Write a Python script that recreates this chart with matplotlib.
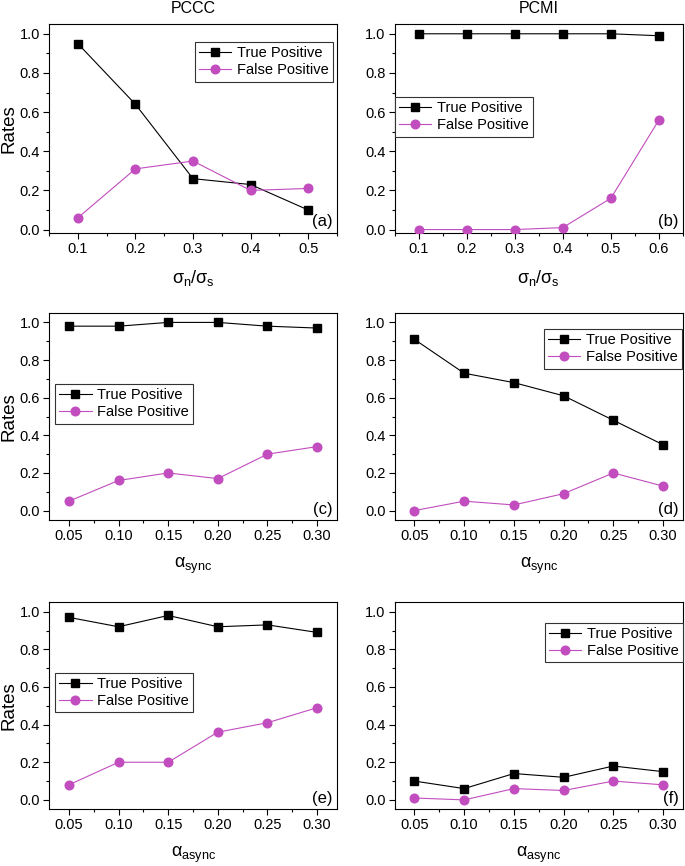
import matplotlib
matplotlib.use("Agg")
import matplotlib.pyplot as plt
from matplotlib.ticker import AutoMinorLocator

plt.rcParams['font.family'] = ['Liberation Sans', 'DejaVu Sans']
plt.rcParams['mathtext.fontset'] = 'custom'
plt.rcParams['mathtext.rm'] = 'Liberation Sans'
plt.rcParams['mathtext.it'] = 'Liberation Sans'
plt.rcParams['mathtext.sf'] = 'Liberation Sans'

# ---- data ----
x_noise_a = [0.1, 0.2, 0.3, 0.4, 0.5]
x_noise_b = [0.1, 0.2, 0.3, 0.4, 0.5, 0.6]
x_alpha = [0.05, 0.10, 0.15, 0.20, 0.25, 0.30]

tp_a = [0.95, 0.64, 0.26, 0.23, 0.10]
fp_a = [0.06, 0.31, 0.35, 0.20, 0.21]
tp_b = [1.00, 1.00, 1.00, 1.00, 1.00, 0.99]
fp_b = [0.00, 0.00, 0.00, 0.01, 0.16, 0.56]
tp_c = [0.98, 0.98, 1.00, 1.00, 0.98, 0.97]
fp_c = [0.05, 0.16, 0.20, 0.17, 0.30, 0.34]
tp_d = [0.91, 0.73, 0.68, 0.61, 0.48, 0.35]
fp_d = [0.00, 0.05, 0.03, 0.09, 0.20, 0.13]
tp_e = [0.97, 0.92, 0.98, 0.92, 0.93, 0.89]
fp_e = [0.08, 0.20, 0.20, 0.36, 0.41, 0.49]
tp_f = [0.10, 0.06, 0.14, 0.12, 0.18, 0.15]
fp_f = [0.01, 0.00, 0.06, 0.05, 0.10, 0.08]

titles = ['PCCC', 'PCMI']
panel_labels = ['(a)', '(b)', '(c)', '(d)', '(e)', '(f)']
xlab_noise = r'$\sigma_\mathrm{n}/\sigma_\mathrm{s}$'
xlab_sync = r'$\alpha_\mathrm{sync}$'
xlab_async = r'$\alpha_\mathrm{async}$'
series_names = ['True Positive', 'False Positive']
yticks = [0.0, 0.2, 0.4, 0.6, 0.8, 1.0]

MAGENTA = '#C14DBE'

fig = plt.figure(figsize=(6.85, 8.66), dpi=100)
W, H = 685, 866

def add_ax(left, top, right, bottom):
    return fig.add_axes([left / W, 1 - bottom / H, (right - left) / W, (bottom - top) / H])

cols = [(49, 337), (394.5, 683)]
rows = [(24, 232.5), (313, 520), (602.3, 809.3)]

panels = [
    dict(x=x_noise_a, tp=tp_a, fp=fp_a, xlim=(0.05, 0.55), ylim=(-0.015, 1.05),
         xlabel=xlab_noise, fmt='{:.1f}', loc='upper right', leg=(0.986, 0.914)),
    dict(x=x_noise_b, tp=tp_b, fp=fp_b, xlim=(0.05, 0.65), ylim=(-0.015, 1.05),
         xlabel=xlab_noise, fmt='{:.1f}', loc='upper left', leg=(0.0, 0.65)),
    dict(x=x_alpha, tp=tp_c, fp=fp_c, xlim=(0.03, 0.32), ylim=(-0.05, 1.05),
         xlabel=xlab_sync, fmt='{:.2f}', loc='upper left', leg=(0.021, 0.657)),
    dict(x=x_alpha, tp=tp_d, fp=fp_d, xlim=(0.03, 0.32), ylim=(-0.05, 1.05),
         xlabel=xlab_sync, fmt='{:.2f}', loc='upper right', leg=(0.997, 0.923)),
    dict(x=x_alpha, tp=tp_e, fp=fp_e, xlim=(0.03, 0.32), ylim=(-0.05, 1.05),
         xlabel=xlab_async, fmt='{:.2f}', loc='upper left', leg=(0.021, 0.66)),
    dict(x=x_alpha, tp=tp_f, fp=fp_f, xlim=(0.03, 0.32), ylim=(-0.05, 1.05),
         xlabel=xlab_async, fmt='{:.2f}', loc='upper right', leg=(1.0, 0.901)),
]

for i, p in enumerate(panels):
    r, c = divmod(i, 2)
    ax = add_ax(cols[c][0], rows[r][0], cols[c][1], rows[r][1])
    ax.plot(p['x'], p['tp'], color='black', lw=0.8, marker='s', ms=5.5,
            mfc='black', mec='black', label=series_names[0], zorder=3)
    ax.plot(p['x'], p['fp'], color=MAGENTA, lw=0.8, marker='o', ms=6.2,
            mfc=MAGENTA, mec=MAGENTA, label=series_names[1], zorder=3)
    ax.set_xlim(*p['xlim'])
    ax.set_ylim(*p['ylim'])
    ax.set_xticks(p['x'])
    ax.set_xticklabels([p['fmt'].format(v) for v in p['x']])
    ax.xaxis.set_minor_locator(AutoMinorLocator(2))
    ax.set_yticks(yticks)
    ax.set_yticklabels(['{:.1f}'.format(v) for v in yticks])
    ax.yaxis.set_minor_locator(AutoMinorLocator(2))
    ax.tick_params(which='major', direction='out', length=4, width=0.8,
                   labelsize=10.5, pad=2.5, colors='black')
    ax.tick_params(which='minor', direction='out', length=2.5, width=0.8)
    for s in ax.spines.values():
        s.set_linewidth(0.8)
    ax.set_xlabel(p['xlabel'], fontsize=13, labelpad=9)
    if c == 0:
        ax.set_ylabel('Rates', fontsize=13.5)
        ax.yaxis.set_label_coords(-0.108, 0.5)
    if r == 0:
        ax.set_title(titles[c], fontsize=11.5, pad=8)
    ax.text(0.985, 0.015, panel_labels[i], transform=ax.transAxes,
            ha='right', va='bottom', fontsize=12)
    leg = ax.legend(loc=p['loc'], bbox_to_anchor=p['leg'], borderaxespad=0,
                    fontsize=10.5, frameon=True, fancybox=False, framealpha=1,
                    edgecolor='#333333', handlelength=2.2, handletextpad=0.4,
                    labelspacing=0.2, borderpad=0.3)
    leg.get_frame().set_linewidth(0.8)

fig.savefig('out.png', dpi=100)
